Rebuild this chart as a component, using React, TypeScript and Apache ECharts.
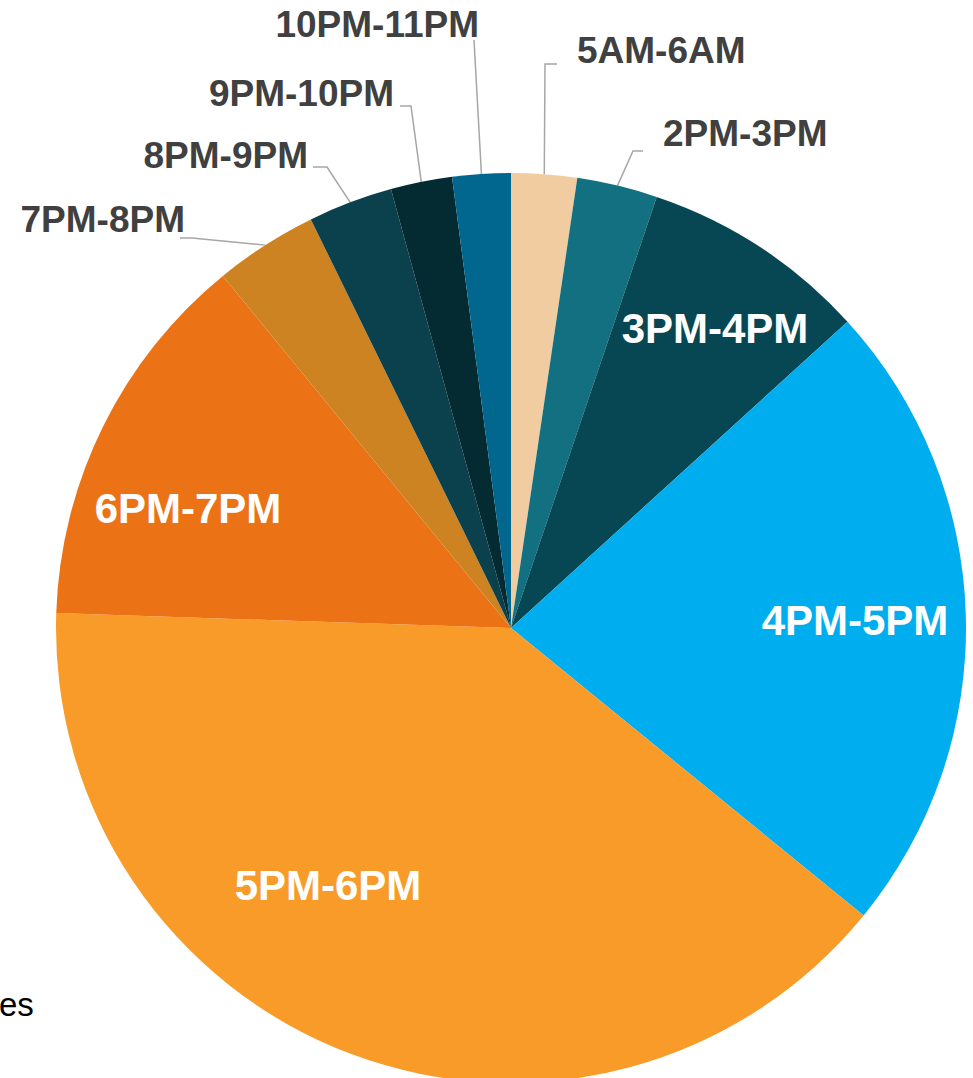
import React, { useEffect, useRef } from "react";
import * as echarts from "echarts";

// ---- data ----
const categories = [
  "5AM-6AM",
  "2PM-3PM",
  "3PM-4PM",
  "4PM-5PM",
  "5PM-6PM",
  "6PM-7PM",
  "7PM-8PM",
  "8PM-9PM",
  "9PM-10PM",
  "10PM-11PM",
];
const shares = [2.33, 2.86, 8.06, 22.64, 39.64, 13.56, 3.67, 3.0, 2.18, 2.07];
const colors = [
  "#F0CCA0",
  "#127080",
  "#074753",
  "#00AEEF",
  "#F89B28",
  "#EC7216",
  "#CE8322",
  "#0B414D",
  "#042A32",
  "#02678E",
];
const cornerNote = "es";

// ---- layout (not data) ----
const CX = 511;
const CY = 628;
const R = 455;
const insideSet = new Set(["3PM-4PM", "4PM-5PM", "5PM-6PM", "6PM-7PM"]);
// label anchor positions (x, y, align) and elbow points for leader lines
const labelPlace: Record<string, { x: number; y: number; align: string; elbow?: [number, number][] }> = {
  "5AM-6AM": { x: 577, y: 50, align: "left", elbow: [[545, 64], [557, 64]] },
  "2PM-3PM": { x: 663, y: 133, align: "left", elbow: [[633, 151], [643, 151]] },
  "3PM-4PM": { x: 715, y: 328, align: "center" },
  "4PM-5PM": { x: 855, y: 620, align: "center" },
  "5PM-6PM": { x: 328, y: 885, align: "center" },
  "6PM-7PM": { x: 188, y: 508, align: "center" },
  "7PM-8PM": { x: 185, y: 219, align: "right", elbow: [[192, 238], [180, 238]] },
  "8PM-9PM": { x: 308, y: 155, align: "right", elbow: [[327, 167], [313, 167]] },
  "9PM-10PM": { x: 394, y: 93, align: "right", elbow: [[411, 106], [400, 106]] },
  "10PM-11PM": { x: 479, y: 24, align: "right", elbow: [[474, 40], [474, 40]] },
};

export default function App() {
  const ref = useRef<HTMLDivElement>(null);

  useEffect(() => {
    if (!ref.current) return;
    const chart = echarts.init(ref.current, undefined, { renderer: "svg" });

    const total = shares.reduce((a, b) => a + b, 0);
    // mid-angle edge points, from the data
    const edgePts: [number, number][] = [];
    let acc = 0;
    shares.forEach((v) => {
      const mid = ((acc + v / 2) / total) * 2 * Math.PI;
      edgePts.push([CX + R * Math.sin(mid), CY - R * Math.cos(mid)]);
      acc += v;
    });

    const font = "'Liberation Sans', Arial, Helvetica, sans-serif";

    const data = categories.map((name, i) => {
      const inside = insideSet.has(name);
      return {
        name,
        value: shares[i],
        itemStyle: { color: colors[i] },
        label: inside
          ? { position: "inside", color: "#FFFFFF", fontSize: 42 }
          : { position: "outside", color: "#404040", fontSize: 37 },
        labelLine: { show: !inside },
      };
    });

    chart.setOption({
      animation: false,
      backgroundColor: "#FFFFFF",
      graphic: [
        {
          type: "text",
          x: -1,
          y: 1004,
          style: {
            text: cornerNote,
            fill: "#000000",
            font: `33px ${font}`,
            verticalAlign: "middle",
            align: "left",
          },
        },
      ],
      series: [
        {
          type: "pie",
          center: [CX, CY],
          radius: R,
          startAngle: 90,
          clockwise: true,
          avoidLabelOverlap: false,
          minAngle: 0,
          silent: true,
          itemStyle: { borderWidth: 0 },
          label: {
            show: true,
            formatter: "{b}",
            fontFamily: font,
            fontWeight: "bold",
          },
          labelLine: {
            show: true,
            length: 20,
            length2: 10,
            lineStyle: { color: "#A6A6A6", width: 1.5 },
          },
          labelLayout: (params: any) => {
            const i = params.dataIndex;
            const name = categories[i];
            const p = labelPlace[name];
            const out: any = {
              x: p.x,
              y: p.y,
              align: p.align,
              verticalAlign: "middle",
            };
            if (p.elbow) {
              out.labelLinePoints = [edgePts[i], p.elbow[0], p.elbow[1]];
            }
            return out;
          },
          data,
        },
      ],
    });

    return () => chart.dispose();
  }, []);

  return (
    <div
      ref={ref}
      style={{ position: "absolute", left: 0, top: 0, width: 973, height: 1078 }}
    />
  );
}
